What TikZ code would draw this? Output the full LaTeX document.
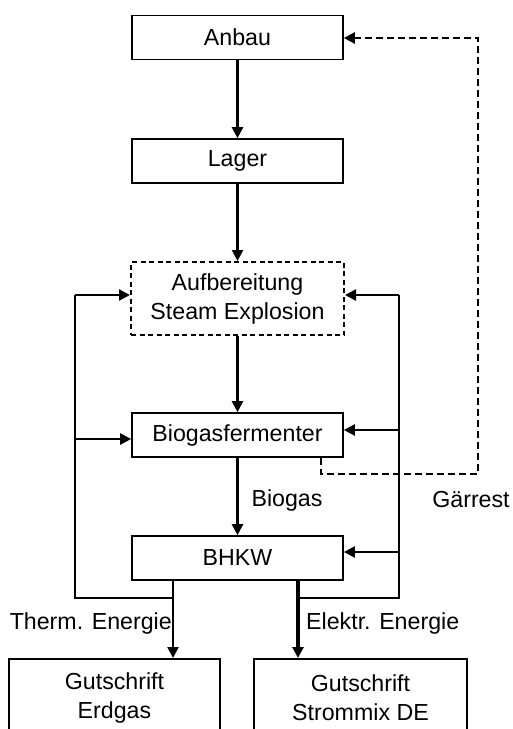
\documentclass[tikz,border=0pt]{standalone}
\usepackage{fontspec}
\setmainfont{Liberation Sans}
\usetikzlibrary{arrows.meta}
\begin{document}
\begin{tikzpicture}[x=1pt,y=-1pt,
  box/.style={draw, line width=1.7pt, inner sep=0pt, minimum width=211pt, minimum height=44pt, align=center, font=\fontsize{23.2}{29}\selectfont},
  lbl/.style={inner sep=0pt, font=\fontsize{23.2}{29}\selectfont},
  arr/.style={line width=2.3pt, -{Triangle[length=11pt,width=11pt]}},
  ln/.style={line width=1.5pt},
  dsh/.style={line width=2.6pt, dash pattern=on 7.5pt off 3.5pt, -{Triangle[length=11pt,width=11pt]}}]
\useasboundingbox (0,0) rectangle (513,729);
\node[box] (anbau) at (237.5,37.5) {Anbau};
\node[box] (lager) at (237.5,161) {Lager};
\node[box, minimum width=213pt, minimum height=73pt, line width=2pt, dash pattern=on 5pt off 3.5pt] (aufb) at (237.5,298.5) {Aufbereitung\\Steam Explosion};
\node[box] (ferm) at (237.5,435) {Biogasfermenter};
\node[box] (bhkw) at (237.5,558) {BHKW};
\node[box, minimum height=78pt, anchor=north] (erdgas) at (114.5,658) {Gutschrift\\Erdgas};
\node[box, minimum width=213pt, minimum height=78pt, anchor=north] (strom) at (360.5,658) {Gutschrift\\Strommix DE};
\node[lbl] (biogas) at (287,500) {Biogas};
\node[lbl] (gaerrest) at (471,500) {Gärrest};
\node[lbl, anchor=east] (therm) at (172,623) {Therm. Energie};
\node[lbl, anchor=west] (elektr) at (306,623) {Elektr. Energie};
\coordinate (tx) at (173,0);
\coordinate (ex) at (298,0);
\coordinate (lt) at (75,295);
\coordinate (lm) at (75,439);
\coordinate (lb) at (75,598);
\coordinate (rt) at (399,295);
\coordinate (rm) at (399,430);
\coordinate (rl) at (399,552);
\coordinate (rb) at (399,598);
\coordinate (g1) at (321,474);
\coordinate (g2) at (478,474);
\coordinate (g3) at (478,38);
\draw[arr] (anbau) -- (lager);
\draw[arr] (lager) -- (aufb);
\draw[arr] (aufb) -- (ferm);
\draw[arr] (ferm) -- (bhkw);
\draw[arr] (bhkw.south -| tx) -- (erdgas.north -| tx);
\draw[line width=4.2pt, -{Triangle[length=11pt,width=11pt]}] (bhkw.south -| ex) -- (strom.north -| ex);
\draw[ln] (lb -| tx) -- (lb) -- (lt);
\draw[arr] (lt) -- (aufb.west |- lt);
\draw[arr] (lm) -- (ferm.west |- lm);
\draw[ln] (rb -| ex) -- (rb) -- (rt);
\draw[arr] (rt) -- (aufb.east |- rt);
\draw[arr] (rm) -- (ferm.east |- rm);
\draw[arr] (rl) -- (bhkw.east |- rl);
\draw[dsh] (ferm.south -| g1) -- (g1) -- (g2) -- (g3) -- (anbau.east |- g3);
\end{tikzpicture}
\end{document}
